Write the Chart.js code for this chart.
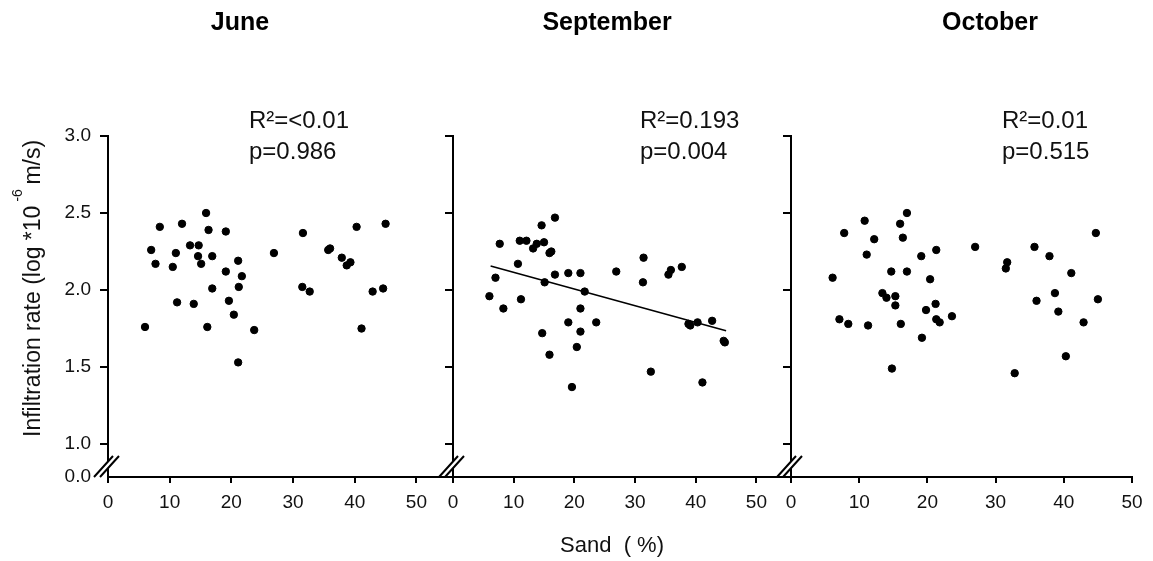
<!DOCTYPE html>
<html>
<head>
<meta charset="utf-8">
<script src="https://cdn.jsdelivr.net/npm/chart.js@4.4.1/dist/chart.umd.min.js"></script>
<style>
  html, body { margin: 0; padding: 0; background: #fff; }
  #wrap { position: relative; width: 1153px; height: 561px; }
  canvas { position: absolute; top: 0; }
</style>
</head>
<body>
<div id="wrap">
  <canvas id="june" width="435" height="561" style="left:0px"></canvas>
  <canvas id="september" width="340" height="561" style="left:435px"></canvas>
  <canvas id="october" width="378" height="561" style="left:775px"></canvas>
</div>
<script>
// data
const months = ['June', 'September', 'October'];
const stats = [['R²=<0.01', 'p=0.986'], ['R²=0.193', 'p=0.004'], ['R²=0.01', 'p=0.515']];

const juneX = [6.0, 7.0, 7.7, 8.4, 10.5, 11.0, 11.2, 12.0, 13.3, 13.9, 14.7, 14.6, 15.1, 15.9, 16.3, 16.1, 16.9, 16.9,
  19.1, 19.1, 19.6, 20.4, 21.1, 21.2, 21.1, 21.7, 23.7, 26.9, 31.6, 31.5, 32.7, 35.7, 36.0, 37.9, 38.7, 39.3, 40.3,
  41.1, 42.9, 44.6, 45.0];
const juneY = [1.76, 2.26, 2.17, 2.41, 2.15, 2.24, 1.92, 2.43, 2.29, 1.91, 2.29, 2.22, 2.17, 2.50, 2.39, 1.76, 2.22, 2.01,
  2.38, 2.12, 1.93, 1.84, 2.19, 2.02, 1.53, 2.09, 1.74, 2.24, 2.37, 2.02, 1.99, 2.26, 2.27, 2.21, 2.16, 2.18, 2.41,
  1.75, 1.99, 2.01, 2.43];

const sepX = [6.0, 7.0, 7.7, 8.3, 10.7, 11.0, 11.2, 12.1, 13.2, 13.8, 14.6, 15.0, 15.1, 14.7, 15.9, 16.2, 16.8, 16.8,
  15.9, 19.0, 19.0, 19.6, 20.4, 21.0, 21.0, 21.0, 21.7, 23.6, 26.9, 31.4, 31.3, 32.6, 35.5, 35.9, 37.7, 38.8, 39.1,
  40.3, 41.1, 42.7, 44.6, 44.8];
const sepY = [1.96, 2.08, 2.30, 1.88, 2.17, 2.32, 1.94, 2.32, 2.27, 2.30, 2.42, 2.31, 2.05, 1.72, 2.24, 2.25, 2.47, 2.10,
  1.58, 2.11, 1.79, 1.37, 1.63, 2.11, 1.88, 1.73, 1.99, 1.79, 2.12, 2.21, 2.05, 1.47, 2.10, 2.13, 2.15, 1.78, 1.77,
  1.79, 1.40, 1.80, 1.67, 1.66];
const sepFitX = [6.2, 45.0];
const sepFitY = [2.156, 1.736];

const octX = [6.1, 7.1, 7.8, 8.4, 10.8, 11.1, 11.3, 12.2, 13.4, 14.0, 14.7, 14.8, 15.3, 15.3, 16.0, 16.1, 16.4, 17.0,
  17.0, 19.1, 19.2, 19.8, 20.4, 21.2, 21.3, 21.3, 21.8, 23.6, 27.0, 31.5, 31.7, 32.8, 35.7, 36.0, 37.9, 38.7, 39.2,
  40.3, 41.1, 42.9, 44.7, 45.0];
const octY = [2.08, 1.81, 2.37, 1.78, 2.45, 2.23, 1.77, 2.33, 1.98, 1.95, 2.12, 1.49, 1.96, 1.90, 2.43, 1.78, 2.34, 2.12,
  2.50, 2.22, 1.69, 1.87, 2.07, 1.91, 2.26, 1.81, 1.79, 1.83, 2.28, 2.14, 2.18, 1.46, 2.28, 1.93, 2.22, 1.98, 1.86,
  1.57, 2.11, 1.79, 2.37, 1.94];

const xTicks = [0, 10, 20, 30, 40, 50];
const yTicks = [1.0, 1.5, 2.0, 2.5, 3.0];
const yBreakLabel = '0.0';
const yMin = 0.786; // bottom of the broken axis, labelled 0.0

const FONT = '"Liberation Sans", Arial, sans-serif';

function drawBreak(ctx, ax, by) {
  const p0 = [ax - 14, by - 1], p1 = [ax + 5, by - 21], s = 6;
  ctx.save();
  ctx.fillStyle = '#fff';
  ctx.beginPath();
  ctx.moveTo(p0[0], p0[1]); ctx.lineTo(p1[0], p1[1]);
  ctx.lineTo(p1[0] + s, p1[1]); ctx.lineTo(p0[0] + s, p0[1]);
  ctx.closePath(); ctx.fill();
  ctx.strokeStyle = '#000'; ctx.lineWidth = 2;
  ctx.beginPath();
  ctx.moveTo(p0[0], p0[1] + 1); ctx.lineTo(p1[0], p1[1]);
  ctx.moveTo(p0[0] + s, p0[1] + 1); ctx.lineTo(p1[0] + s, p1[1]);
  ctx.stroke();
  ctx.restore();
}

function makePanel(id, idx, xs, ys, cfg) {
  const datasets = [{
    type: 'scatter',
    data: xs.map((x, i) => ({ x: x, y: ys[i] })),
    backgroundColor: '#000',
    borderColor: '#000',
    pointRadius: 3.7,
    pointHoverRadius: 3.7
  }];
  if (cfg.fit) {
    datasets.push({
      type: 'line',
      data: cfg.fit[0].map((x, i) => ({ x: x, y: cfg.fit[1][i] })),
      borderColor: '#000',
      borderWidth: 1.6,
      pointRadius: 0,
      fill: false
    });
  }

  const decor = {
    id: 'decor' + idx,
    afterDraw(chart) {
      const ctx = chart.ctx;
      const a = chart.chartArea;
      ctx.save();
      // baseline continues towards the neighbour panels
      ctx.strokeStyle = '#000'; ctx.lineWidth = 2;
      ctx.beginPath();
      if (cfg.extLeft) { ctx.moveTo(0, a.bottom); ctx.lineTo(a.left, a.bottom); }
      if (cfg.extRight) { ctx.moveTo(a.right, a.bottom); ctx.lineTo(chart.width, a.bottom); }
      ctx.stroke();
      drawBreak(ctx, a.left, a.bottom);

      ctx.fillStyle = '#000';
      ctx.textBaseline = 'middle';
      ctx.textAlign = 'center';
      ctx.font = 'bold 25px ' + FONT;
      ctx.fillText(months[idx], cfg.titleX, 23);

      ctx.fillStyle = '#111';
      ctx.textAlign = 'left';
      ctx.font = '24px ' + FONT;
      ctx.fillText(stats[idx][0], cfg.statX, 121);
      ctx.fillText(stats[idx][1], cfg.statX, 152);

      if (cfg.yTitle) {
        ctx.save();
        ctx.translate(34, 437);
        ctx.rotate(-Math.PI / 2);
        ctx.font = '23px ' + FONT;
        const t1 = 'Infiltration rate (log *10';
        const w1 = ctx.measureText(t1).width;
        ctx.fillText(t1, 0, 0);
        ctx.fillText('m/s)', w1 + 21, 0);
        ctx.font = '14px ' + FONT;
        ctx.fillText('-6', w1 + 4, -16);
        ctx.restore();
      }
      if (cfg.xTitle) {
        ctx.textAlign = 'center';
        ctx.font = '22px ' + FONT;
        ctx.fillText('Sand  ( %)', cfg.xTitle, 546);
      }
      ctx.restore();
    }
  };

  return new Chart(document.getElementById(id), {
    data: { datasets: datasets },
    options: {
      responsive: false,
      animation: false,
      events: [],
      layout: { padding: { left: 0, right: cfg.padRight, top: 136, bottom: 44 } },
      plugins: { legend: { display: false }, tooltip: { enabled: false } },
      scales: {
        x: {
          type: 'linear',
          min: 0, max: 50,
          afterBuildTicks: s => { s.ticks = xTicks.map(v => ({ value: v })); },
          afterFit: s => { s.height = 40; },
          ticks: { autoSkip: false, maxRotation: 0, padding: 8, color: '#111', font: { family: FONT, size: 19 } },
          grid: { drawOnChartArea: false, drawTicks: true, tickLength: 6, color: '#000', lineWidth: 2 },
          border: { display: true, color: '#000', width: 2 }
        },
        y: {
          type: 'linear',
          min: yMin, max: 3.0,
          afterBuildTicks: s => { s.ticks = [yMin].concat(yTicks).map(v => ({ value: v })); },
          afterFit: s => { s.width = cfg.yWidth; },
          ticks: {
            display: !!cfg.yLabels,
            autoSkip: false,
            padding: 9,
            color: '#111',
            font: { family: FONT, size: 19 },
            callback: v => (v < 1 ? yBreakLabel : v.toFixed(1))
          },
          grid: {
            drawOnChartArea: false, drawTicks: true, tickLength: 8, lineWidth: 2,
            color: c => (c.tick && c.tick.value < 1 ? 'rgba(0,0,0,0)' : '#000')
          },
          border: { display: true, color: '#000', width: 2 }
        }
      }
    },
    plugins: [decor]
  });
}

makePanel('june', 0, juneX, juneY, {
  padRight: 17, yWidth: 108, yLabels: true, yTitle: true, titleX: 240, statX: 249, extRight: true
});
makePanel('september', 1, sepX, sepY, {
  padRight: 11, yWidth: 18, fit: [sepFitX, sepFitY], titleX: 172, statX: 205, extLeft: true, extRight: true, xTitle: 177
});
makePanel('october', 2, octX, octY, {
  padRight: 21, yWidth: 16, titleX: 215, statX: 227, extLeft: true
});
</script>
</body>
</html>
